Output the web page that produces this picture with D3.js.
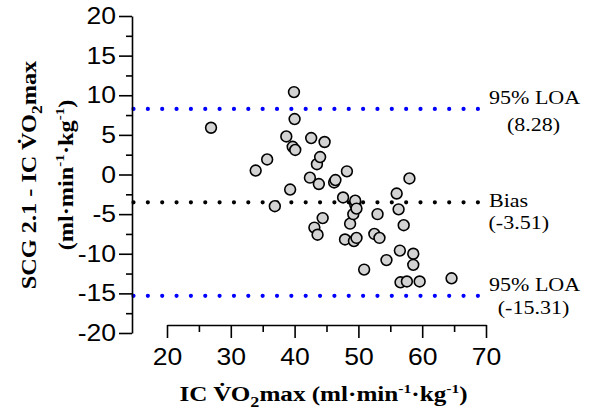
<!DOCTYPE html>
<html>
<head>
<meta charset="utf-8">
<script src="https://cdn.jsdelivr.net/npm/d3@7"></script>
<style>
  html, body { margin: 0; padding: 0; background: #fff; }
  svg { display: block; }
</style>
</head>
<body>
<svg id="chart" width="590" height="412"></svg>
<script>
// ---- data ----
const icVO2 = [26.9, 33.9, 35.7, 36.9, 38.7, 39.3, 39.7, 39.9, 40.0, 40.1,
               42.4, 42.6, 43.1, 43.5, 43.6, 43.8, 44.0, 44.4, 44.7, 46.2,
               46.4, 47.6, 47.9, 48.2, 48.7, 49.2, 49.3, 49.5, 49.5, 49.7,
               49.7, 50.9, 52.5, 53.0, 53.3, 54.4, 56.0, 56.3, 56.5, 56.6,
               57.1, 57.6, 58.0, 58.6, 58.6, 59.6, 64.6];
const diffVO2 = [5.9, 0.5, 1.9, -4.0, 4.8, -1.9, 3.5, 10.4, 7.0, 3.1,
                 -0.4, 4.6, -6.7, 1.3, -7.6, -1.2, 2.2, -5.5, 4.1, -1.0,
                 -0.7, -2.9, -8.2, 0.4, -6.2, -5.0, -8.4, -3.8, -3.3, -4.3,
                 -8.0, -12.0, -7.5, -5.0, -8.0, -10.8, -2.4, -4.4, -9.6, -13.6,
                 -6.4, -13.5, -0.5, -10.0, -11.4, -13.5, -13.1];
const xTicks = [20, 30, 40, 50, 60, 70];
const xMinorTicks = [25, 35, 45, 55, 65];
const yTicks = [-20, -15, -10, -5, 0, 5, 10, 15, 20];
const yMinorTicks = [-17.5, -12.5, -7.5, -2.5, 2.5, 7.5, 12.5, 17.5];
const refNames = ["upperLOA", "bias", "lowerLOA"];
const refValues = [8.28, -3.51, -15.31];
const refLabels = [["95% LOA", "(8.28)"], ["Bias", "(-3.51)"], ["95% LOA", "(-15.31)"]];
const refColors = ["#0000ff", "#000000", "#0000ff"];

// ---- layout ----
const svg = d3.select("#chart");
const SX = 1.13; // horizontal stretch of the original lettering
const x = d3.scaleLinear().domain([20, 70]).range([167, 486]);
const y = d3.scaleLinear().domain([-20, 20]).range([333, 16]);
const yAxisX = 132, xAxisY = 325;
const lineStart = 133.5, lineEnd = 486;

// reference lines (dotted)
svg.append("g").selectAll("line").data(refValues).join("line")
  .attr("x1", lineStart).attr("x2", lineEnd)
  .attr("y1", d => y(d)).attr("y2", d => y(d))
  .attr("stroke", (d, i) => refColors[i])
  .attr("stroke-width", 4.2)
  .attr("stroke-linecap", "round")
  .attr("stroke-dasharray", "0 14.35");

// points
svg.append("g").selectAll("circle").data(icVO2).join("circle")
  .attr("cx", d => x(d))
  .attr("cy", (d, i) => y(diffVO2[i]))
  .attr("r", 5.4)
  .attr("fill", "#d3d3d3")
  .attr("stroke", "#000")
  .attr("stroke-width", 1.6);

// y axis
const fmt = d => String(d);
const yAx = svg.append("g").attr("transform", `translate(${yAxisX},0)`)
  .call(d3.axisLeft(y).tickValues(yTicks).tickFormat(fmt).tickSize(13).tickSizeOuter(0).tickPadding(3));
svg.append("g").attr("transform", `translate(${yAxisX},0)`)
  .call(d3.axisLeft(y).tickValues(yMinorTicks).tickSize(6).tickFormat(""))
  .call(g => g.select(".domain").remove());

// x axis
const xAx = svg.append("g").attr("transform", `translate(0,${xAxisY})`)
  .call(d3.axisBottom(x).tickValues(xTicks).tickFormat(fmt).tickSize(13).tickSizeOuter(0).tickPadding(10));
svg.append("g").attr("transform", `translate(0,${xAxisY})`)
  .call(d3.axisBottom(x).tickValues(xMinorTicks).tickSize(7).tickFormat(""))
  .call(g => g.select(".domain").remove());

svg.selectAll(".domain, .tick line").attr("stroke", "#000").attr("stroke-width", 1.6);
[yAx, xAx].forEach(g => g.selectAll("text")
  .attr("font-family", "'Liberation Sans', Arial, sans-serif")
  .attr("font-size", 23.5)
  .attr("fill", "#000"));
yAx.selectAll("text").attr("x", -16 / SX).attr("transform", `scale(${SX},1)`);
xAx.selectAll("text").attr("transform", `scale(${SX},1)`);

// rich text helper
function rich(sel, parts, size) {
  parts.forEach(p => {
    const t = sel.append("tspan").text(p.t);
    if (p.sub) t.attr("font-size", size * 0.72).attr("dy", size * 0.3);
    else if (p.sup) t.attr("font-size", size * 0.62).attr("dy", -size * 0.38);
    if (p.back) t.attr("dy", p.back * size);
  });
}
const serif = "'Liberation Serif', 'Times New Roman', serif";

// x title
const xt = svg.append("text")
  .attr("transform", `translate(323.5,401) scale(1.17,1)`)
  .attr("text-anchor", "middle")
  .attr("font-family", serif).attr("font-weight", "bold").attr("font-size", 21.5);
rich(xt, [
  {t: "IC V\u0307O"}, {t: "2", sub: true}, {t: "max (ml·min", back: -0.3},
  {t: "-1", sup: true}, {t: "·kg", back: 0.38}, {t: "-1", sup: true}, {t: ")", back: 0.38}
], 21.5);

// y title
const yt1 = svg.append("text")
  .attr("transform", `translate(36,175) rotate(-90) scale(${SX},1)`)
  .attr("text-anchor", "middle")
  .attr("font-family", serif).attr("font-weight", "bold").attr("font-size", 21.5);
rich(yt1, [{t: "SCG 2.1 - IC V\u0307O"}, {t: "2", sub: true}, {t: "max", back: -0.3}], 21.5);
const yt2 = svg.append("text")
  .attr("transform", `translate(72.5,175) rotate(-90) scale(${SX},1)`)
  .attr("text-anchor", "middle")
  .attr("font-family", serif).attr("font-weight", "bold").attr("font-size", 21.5);
rich(yt2, [{t: "(ml·min"}, {t: "-1", sup: true}, {t: "·kg", back: 0.38}, {t: "-1", sup: true}, {t: ")", back: 0.38}], 21.5);

// reference labels
const labelPos = [
  {x: 533.5, y1: 104, y2: 131, anchor: "middle", x1: 489},
  {x: 488.5, y1: 207, y2: 229, anchor: "start", x1: 489},
  {x: 533.5, y1: 291, y2: 314, anchor: "middle", x1: 489}
];
refLabels.forEach((lab, i) => {
  const p = labelPos[i];
  svg.append("text")
    .attr("transform", `translate(${p.x1},${p.y1}) scale(${SX},1)`)
    .attr("font-family", serif).attr("font-size", 19.5).attr("fill", "#000")
    .text(lab[0]);
  svg.append("text")
    .attr("transform", `translate(${p.x},${p.y2}) scale(${SX},1)`)
    .attr("text-anchor", p.anchor)
    .attr("font-family", serif).attr("font-size", 19.5).attr("fill", "#000")
    .text(lab[1]);
});
</script>
</body>
</html>
